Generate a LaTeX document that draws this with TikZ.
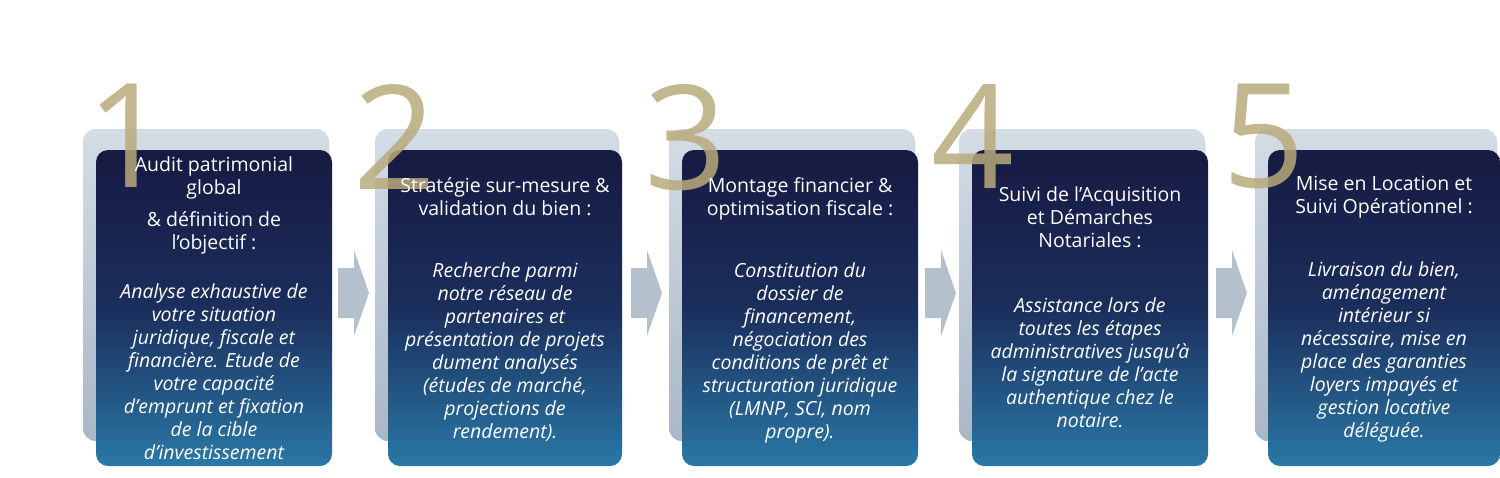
\documentclass[tikz,border=0pt]{standalone}
\usepackage{fontspec}
\setmainfont{Open Sans}
\usetikzlibrary{positioning}
\definecolor{navyA}{HTML}{171A42}
\definecolor{navyB}{HTML}{1B2E5C}
\definecolor{navyC}{HTML}{2A78A6}
\definecolor{backA}{HTML}{D4DDE6}
\definecolor{backB}{HTML}{A9B7C6}
\definecolor{gold}{HTML}{B9AA7C}
\definecolor{arrowc}{HTML}{B4C0CC}
\tikzset{
  back/.style={rounded corners=14pt, top color=backA, bottom color=backB, draw=white, line width=1.5pt},
  front/.style={rounded corners=12pt, top color=navyA, bottom color=navyC, middle color=navyB, shading angle=0},
  digit/.style={text=gold, font=\fontsize{145}{145}\selectfont, inner sep=0, anchor=north west, opacity=0.85},
  txt/.style={text=white, font=\fontsize{19.5}{23}\selectfont, align=center, inner sep=0},
  chev/.style={fill=arrowc, draw=none},
}
\begin{document}
\begin{tikzpicture}[x=1pt,y=-1pt]
\useasboundingbox (0,0) rectangle (1500,477);
\foreach \i/\xa/\xb in {1/96/332,2/388/622,3/682/918,4/972/1208,5/1268/1500}{
  \path[back] (\xa-14,128) rectangle (\xb-2,442);
  \path[front] (\xa,150) rectangle (\xb,466);
  \node[coordinate] (c\i) at ({(\xa+\xb)/2},150) {};
}
\foreach \i/\xa in {1/86,2/353,3/644,4/931,5/1222}{
  \node[digit] (d\i) at (\xa,84) {\i};
}
\foreach \j/\x in {1/338,2/631,3/925,4/1216}{
  \fill[chev] (\x,268) -- (\x+16,268) -- (\x+16,250) -- (\x+31,293) -- (\x+16,336) -- (\x+16,318) -- (\x,318) -- cycle;
  \node[coordinate] (a\j) at (\x,293) {};
}
\node[txt, anchor=north] (t1) at ([yshift=-6]c1) {Audit patrimonial\\global\\[9pt]\& définition de\\l’objectif :\\[26pt]\itshape Analyse exhaustive de\\\itshape votre situation\\\itshape juridique, fiscale et\\\itshape financière. Etude de\\\itshape votre capacité\\\itshape d’emprunt et fixation\\\itshape de la cible\\\itshape d’investissement};
\node[txt, anchor=north] (t2) at ([yshift=-27]c2) {Stratégie sur-mesure \&\\validation du bien :\\[39pt]\itshape Recherche parmi\\\itshape notre réseau de\\\itshape partenaires et\\\itshape présentation de projets\\\itshape dument analysés\\\itshape (études de marché,\\\itshape projections de\\\itshape rendement).};
\node[txt, anchor=north] (t3) at ([yshift=-27]c3) {Montage financier \&\\optimisation fiscale :\\[39pt]\itshape Constitution du\\\itshape dossier de\\\itshape financement,\\\itshape négociation des\\\itshape conditions de prêt et\\\itshape structuration juridique\\\itshape (LMNP, SCI, nom\\\itshape propre).};
\node[txt, anchor=north] (t4) at ([yshift=-36]c4) {Suivi de l'Acquisition\\et Démarches\\Notariales :\\[42pt]\itshape Assistance lors de\\\itshape toutes les étapes\\\itshape administratives jusqu'à\\\itshape la signature de l'acte\\\itshape authentique chez le\\\itshape notaire.};
\node[txt, anchor=north] (t5) at ([yshift=-26]c5) {Mise en Location et\\Suivi Opérationnel :\\[40pt]\itshape Livraison du bien,\\\itshape aménagement\\\itshape intérieur si\\\itshape nécessaire, mise en\\\itshape place des garanties\\\itshape loyers impayés et\\\itshape gestion locative\\\itshape déléguée.};
\end{tikzpicture}
\end{document}
